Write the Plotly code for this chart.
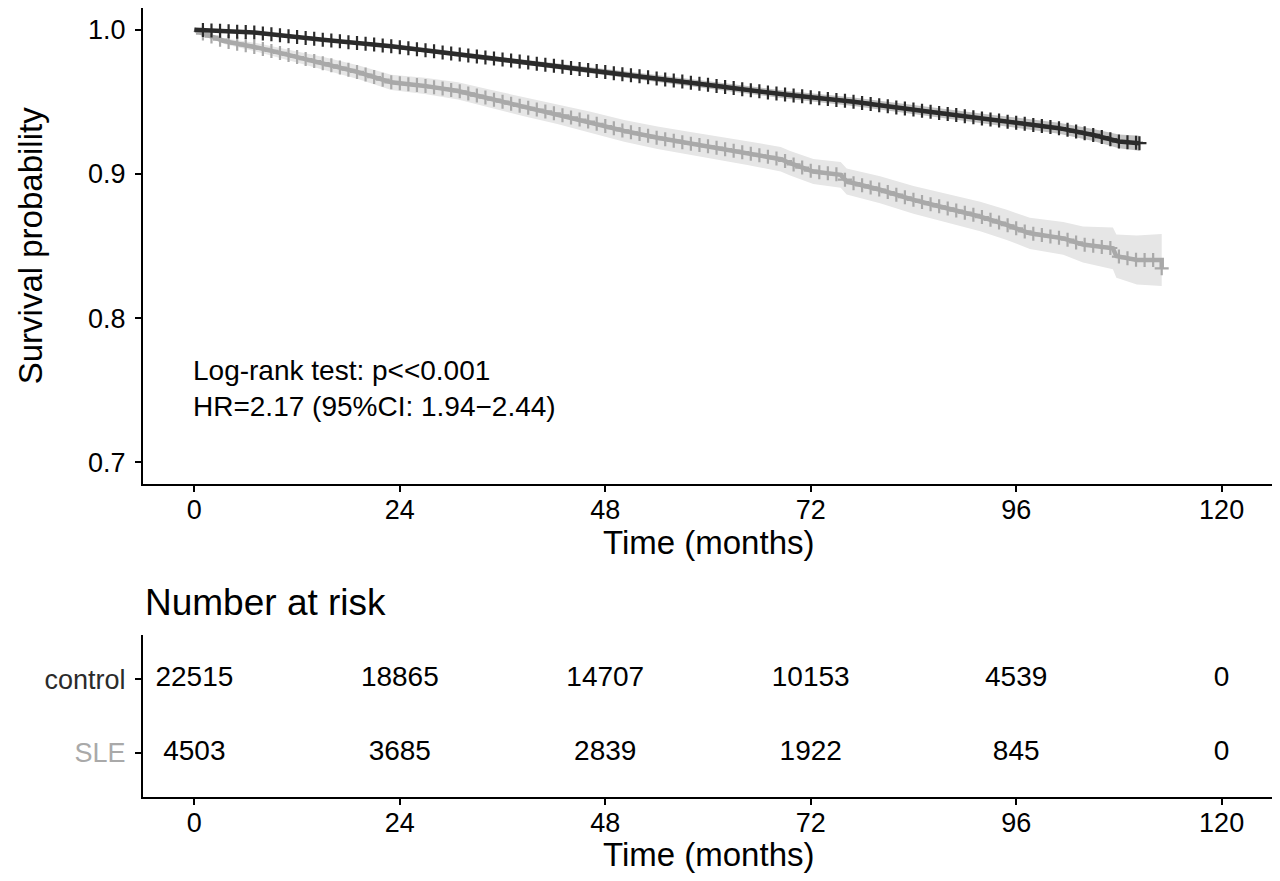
import numpy as np
import plotly.graph_objects as go
from plotly.subplots import make_subplots

# ---------------- data ----------------
t_control = [0, 7, 15, 23, 31, 38.5, 46, 54, 61.5, 69, 77, 85.6, 93.3, 101, 105, 108, 110.4]
s_control = [1.0, 0.998, 0.993, 0.9885, 0.9828, 0.9775, 0.972, 0.9662, 0.9606, 0.955,
             0.950, 0.9433, 0.9375, 0.9317, 0.927, 0.9225, 0.9213]
ci_control = [0, 0.0006, 0.0011, 0.0014, 0.0017, 0.0019, 0.0021, 0.0023, 0.0025, 0.0027,
              0.0029, 0.0031, 0.0034, 0.0038, 0.0042, 0.0048, 0.0052]

t_sle = [0, 0.8, 3.5, 7.4, 11.3, 15.2, 19.1, 23, 26.9, 30.8, 34.6, 38.5, 42.4, 46.3, 50.2,
         54.1, 57.6, 60.7, 64.6, 68.5, 69.6, 72.3, 75.5, 76.2, 80.1, 84, 87.9, 91.8, 94.9,
         97.6, 101.5, 103.8, 107.3, 107.7, 110.1, 113]
s_sle = [1.0, 0.9977, 0.992, 0.9875, 0.982, 0.9765, 0.9705, 0.9635, 0.961, 0.9575, 0.952,
         0.9465, 0.9415, 0.9358, 0.9298, 0.925, 0.9213, 0.9185, 0.9144, 0.9102, 0.9074,
         0.9016, 0.8993, 0.8947, 0.889, 0.882, 0.8762, 0.8704, 0.8646, 0.8588, 0.8553,
         0.851, 0.8484, 0.843, 0.8403, 0.8403]
ci_sle = [0, 0.001, 0.002, 0.003, 0.0037, 0.0043, 0.0048, 0.0053, 0.0056, 0.006, 0.0063,
          0.0066, 0.0069, 0.0072, 0.0075, 0.0078, 0.008, 0.0081, 0.0083, 0.0085, 0.0085,
          0.0087, 0.0089, 0.009, 0.0093, 0.0096, 0.0099, 0.0102, 0.0105, 0.0108, 0.0113,
          0.0125, 0.0145, 0.015, 0.017, 0.018]
sle_end_drop = 0.8345  # final step at the last time

cens_control = list(range(1, 111))
cens_sle = list(range(1, 113))

risk_times = [0, 24, 48, 72, 96, 120]
risk_control = [22515, 18865, 14707, 10153, 4539, 0]
risk_sle = [4503, 3685, 2839, 1922, 845, 0]

x_ticks = [0, 24, 48, 72, 96, 120]
y_ticks = [0.7, 0.8, 0.9, 1.0]
y_ticklabels = ["0.7", "0.8", "0.9", "1.0"]

COL_CTRL = "#2b2b2b"
COL_SLE = "#a9a9a9"
BAND_CTRL = "#c2c2c2"
BAND_SLE = "#e6e6e6"
FONT = "Liberation Sans, Arial, Helvetica, sans-serif"

# ---------------- figure ----------------
fig = make_subplots(rows=2, cols=1)

def band(t, s, ci, color):
    up = [a + b for a, b in zip(s, ci)]
    lo = [a - b for a, b in zip(s, ci)]
    return go.Scatter(x=list(t) + list(t)[::-1], y=up + lo[::-1], fill="toself",
                      fillcolor=color, line=dict(width=0), mode="lines",
                      hoverinfo="skip", showlegend=False)

fig.add_trace(band(t_sle, s_sle, ci_sle, BAND_SLE), row=1, col=1)
fig.add_trace(band(t_control, s_control, ci_control, BAND_CTRL), row=1, col=1)

# SLE curve (with final drop)
sle_x = t_sle + [t_sle[-1]]
sle_y = s_sle + [sle_end_drop]
fig.add_trace(go.Scatter(x=sle_x, y=sle_y, mode="lines",
                         line=dict(color=COL_SLE, width=4.5), showlegend=False), row=1, col=1)
cs_y = list(np.interp(cens_sle, t_sle, s_sle)) + [sle_end_drop]
fig.add_trace(go.Scatter(x=cens_sle + [t_sle[-1]], y=cs_y, mode="markers",
                         marker=dict(symbol="cross-thin", size=10,
                                     line=dict(color=COL_SLE, width=2.2)),
                         showlegend=False), row=1, col=1)

# control curve
fig.add_trace(go.Scatter(x=t_control, y=s_control, mode="lines",
                         line=dict(color=COL_CTRL, width=4.5), showlegend=False), row=1, col=1)
cc_y = list(np.interp(cens_control, t_control, s_control)) + [s_control[-1]]
fig.add_trace(go.Scatter(x=cens_control + [t_control[-1]], y=cc_y, mode="markers",
                         marker=dict(symbol="cross-thin", size=10,
                                     line=dict(color=COL_CTRL, width=2.2)),
                         showlegend=False), row=1, col=1)

# risk table
fig.add_trace(go.Scatter(x=risk_times, y=[2] * len(risk_times), mode="text",
                         text=[str(v) for v in risk_control],
                         textfont=dict(size=28, color="black", family=FONT),
                         showlegend=False), row=2, col=1)
fig.add_trace(go.Scatter(x=risk_times, y=[1] * len(risk_times), mode="text",
                         text=[str(v) for v in risk_sle],
                         textfont=dict(size=28, color="black", family=FONT),
                         showlegend=False), row=2, col=1)

axis_common = dict(showline=True, linecolor="black", linewidth=2.2, ticks="outside",
                   ticklen=6, tickwidth=2, tickcolor="black", showgrid=False,
                   zeroline=False, tickfont=dict(size=27, color="black", family=FONT))

fig.update_layout(
    width=1272, height=873,
    margin=dict(l=135, r=7, t=0, b=84),
    paper_bgcolor="white", plot_bgcolor="white",
    font=dict(family=FONT, color="black"),
    xaxis=dict(axis_common, range=[-6, 126], tickvals=x_ticks, anchor="y",
               ticklabelstandoff=-6),
    yaxis=dict(axis_common, range=[0.685, 1.015], tickvals=y_ticks,
               ticktext=y_ticklabels, domain=[0.3967, 1.0], ticklabelstandoff=4),
    xaxis2=dict(axis_common, range=[-6, 126], tickvals=x_ticks, anchor="y2",
                ticklabelstandoff=-6),
    yaxis2=dict(axis_common, range=[0.4, 2.6], tickvals=[1, 2],
                ticktext=['<span style="color:#a9a9a9">SLE</span>',
                          '<span style="color:#2b2b2b">control</span>'],
                domain=[0.0, 0.2053], ticklabelstandoff=4),
)

ann = [
    dict(text="Survival probability", x=-0.1, y=0.698, xref="paper", yref="paper",
         xanchor="center", yanchor="middle",
         textangle=-90, showarrow=False, font=dict(size=33, color="black")),
    dict(text="Time (months)", x=0.5, y=0.322, xref="paper", yref="paper",
         xanchor="center", yanchor="middle",
         showarrow=False, font=dict(size=33, color="black")),
    dict(text="Number at risk", x=0.0, y=0.2459, xref="paper", yref="paper",
         xanchor="left", yanchor="middle", showarrow=False,
         font=dict(size=37, color="black")),
    dict(text="Time (months)", x=0.5, y=-0.0735, xref="paper", yref="paper",
         xanchor="center", yanchor="middle",
         showarrow=False, font=dict(size=33, color="black")),
    dict(text="Log-rank test: p<<0.001<br>HR=2.17 (95%CI: 1.94\u22122.44)",
         x=-0.4, y=0.751, xref="x", yref="y", xanchor="left", yanchor="middle",
         align="left", showarrow=False, font=dict(size=28, color="black")),
]
fig.update_layout(annotations=ann)

fig.write_html("out.html")
